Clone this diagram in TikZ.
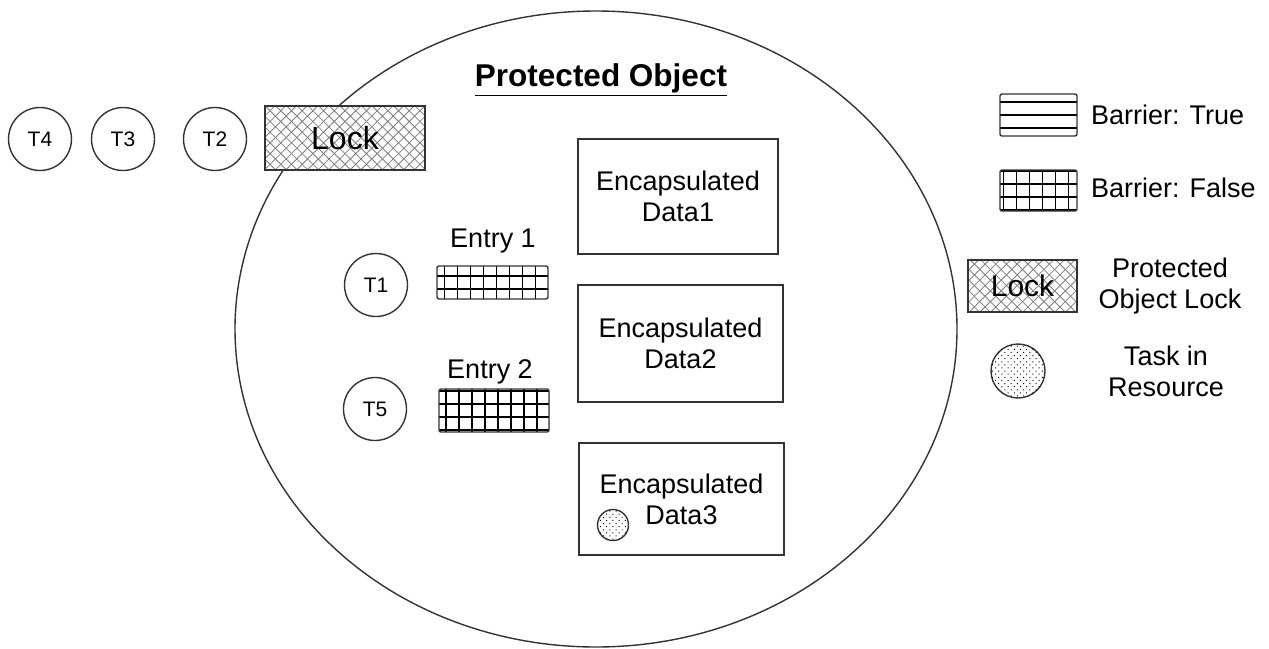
\documentclass[tikz,border=0pt]{standalone}
\usepackage{fontspec}
\setmainfont{Liberation Sans}
\usetikzlibrary{positioning,shapes.geometric,patterns.meta,calc}

\begin{document}
\begin{tikzpicture}[
  x=0.5pt, y=-0.5pt,
  ln/.style={draw=black!80, line width=0.7pt},
  task/.style={circle, ln, fill=white, minimum size=31.5pt, inner sep=0pt,
               font=\fontsize{10.5}{12}\selectfont},
  lockbox/.style={rectangle, ln, fill=white, inner sep=0pt,
                  path picture={
                    \foreach \k in {-16,...,16}{
                      \draw[black!50, line width=0.4pt]
                        ($(path picture bounding box.center)+(\k*10.7,-70)$) -- ++(140,140)
                        ($(path picture bounding box.center)+(\k*10.7,-70)$) -- ++(-140,140);
                    }}},
  databox/.style={rectangle, ln, fill=white, align=center,
                  font=\fontsize{13.5}{15.5}\selectfont},
  barfalse/.style={rectangle, ln, rounded corners=1pt, inner sep=0pt,
                   path picture={
                     \foreach \k in {-6,...,6}{
                       \draw[black, line width=0.8pt]
                         ($(path picture bounding box.center)+(\k*13+4,-40)$) -- ++(0,80)
                         ($(path picture bounding box.center)+(-80,\k*13+6.5)$) -- ++(160,0);
                     }}},
  bartrue/.style={rectangle, ln, rounded corners=1pt, inner sep=0pt,
                  path picture={
                    \foreach \k in {-2,...,2}{
                      \draw[black, line width=0.8pt]
                        ($(path picture bounding box.center)+(-80,\k*13)$) -- ++(160,0);
                    }}},
  taskdot/.style={circle, ln, inner sep=0pt,
                  postaction={pattern={Dots[angle=45,distance=2.2pt,radius=0.35pt]},
                              pattern color=black}},
  lbl/.style={font=\fontsize{13.5}{15.5}\selectfont, align=center}
]
  \useasboundingbox (0,0) rectangle (1269,648);

  % protected object
  \node[ellipse, ln, minimum width=361pt, minimum height=318pt] (po) at (596,329) {};
  \node[font=\bfseries\fontsize{15.75}{18}\selectfont] (title) at (601,80) {\underline{Protected Object}};

  % waiting tasks and lock
  \node[task] (t4) at (40,139) {T4};
  \node[task] (t3) at (123,139) {T3};
  \node[task] (t2) at (215,139) {T2};
  \node[lockbox, minimum width=80pt, minimum height=32pt,
        font=\fontsize{16}{18}\selectfont] (lock) at (345,138) {Lock};

  % encapsulated data
  \node[databox, minimum width=100pt, minimum height=57.5pt] (d1) at (678,196.5) {Encapsulated\\Data1};
  \node[databox, minimum width=102.5pt, minimum height=58.5pt] (d2) at (680.5,343.5) {Encapsulated\\Data2};
  \node[databox, minimum width=102.5pt, minimum height=56pt] (d3) at (681.5,499) {Encapsulated\\Data3};
  \node[taskdot, minimum size=15.5pt] (td) at (613,525) {};

  % entries
  \node[task] (t1) at (376,285) {T1};
  \node[task] (t5) at (375,409) {T5};
  \node[barfalse, minimum width=55.5pt, minimum height=16.5pt] (b1) at (492.5,282.5) {};
  \node[barfalse, minimum width=55pt, minimum height=21.5pt] (b2) at (494,410.5) {};
  \node[lbl] (e1) at (493,241) {Entry 1};
  \node[lbl] (e2) at (490,372) {Entry 2};

  % legend
  \node[bartrue, minimum width=38.5pt, minimum height=21pt] (lt) at (1038.5,115) {};
  \node[lbl, anchor=west] (ltx) at (1084,115) {Barrier: True};
  \node[barfalse, minimum width=38.5pt, minimum height=20.5pt] (lf) at (1038.5,190.5) {};
  \node[lbl, anchor=west] (lfx) at (1084,188) {Barrier: False};
  \node[lockbox, minimum width=54.5pt, minimum height=26pt,
        font=\fontsize{15}{17}\selectfont] (ll) at (1022.5,286) {Lock};
  \node[lbl] (llx) at (1170,286) {Protected\\Object Lock};
  \node[taskdot, minimum size=27pt] (lr) at (1018,371) {};
  \node[lbl] (lrx) at (1166,371) {Task in\\Resource};
\end{tikzpicture}
\end{document}
